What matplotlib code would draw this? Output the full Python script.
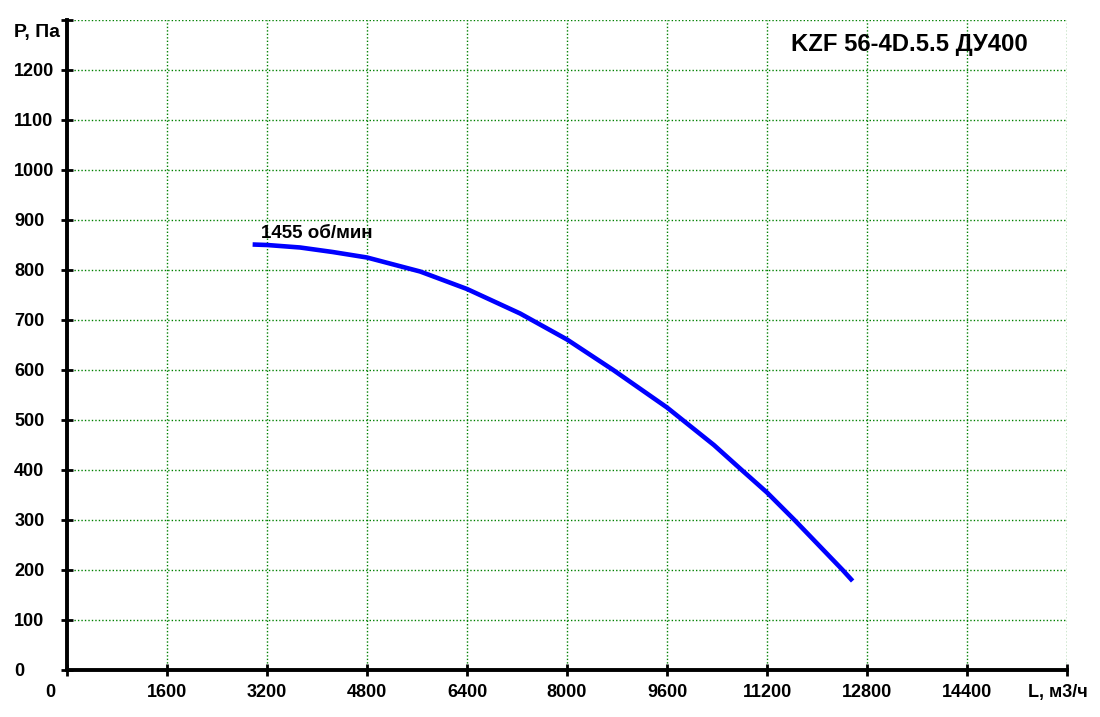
import numpy as np
import matplotlib
matplotlib.use("Agg")
import matplotlib.pyplot as plt
import matplotlib.transforms as mtransforms

plt.rcParams['font.family'] = ['Liberation Sans', 'DejaVu Sans']
plt.rcParams['font.weight'] = 'bold'

# curve: L (m3/h) vs P (Pa)
flow = [2970, 3200, 3730, 4250, 4800, 5650, 6400, 7250, 8000, 8740,
        9600, 9850, 10350, 10795, 11200, 11640, 12410, 12570]
pressure = [851, 850, 845, 836, 825, 797, 762, 713, 661, 600,
            525, 500, 450, 400, 355, 300, 200, 178]

x_ticks = [0, 1600, 3200, 4800, 6400, 8000, 9600, 11200, 12800, 14400, 16000]
x_labels = ['0', '1600', '3200', '4800', '6400', '8000', '9600', '11200',
            '12800', '14400', 'L, м3/ч']
y_ticks = list(range(0, 1301, 100))
y_labels = [str(v) for v in range(0, 1201, 100)] + ['']

title = 'KZF 56-4D.5.5 ДУ400'
curve_label = '1455 об/мин'

fig = plt.figure(figsize=(11, 7.17), dpi=100)
ax = fig.add_axes([67 / 1100, 47 / 717, 1000 / 1100, 650 / 717])

ax.plot(flow, pressure, color='#0000ff', lw=3.3, solid_capstyle='butt',
        solid_joinstyle='round')

ax.set_xlim(0, 16000)
ax.set_ylim(0, 1300)
ax.set_xticks(x_ticks)
ax.set_xticklabels(x_labels, fontsize=13, fontweight='bold')
ax.set_yticks(y_ticks)
ax.set_yticklabels(y_labels, fontsize=13, fontweight='bold')

ax.grid(True, color='#008000', linestyle=(0, (1, 1.5)), linewidth=1.0)
for s in ['top', 'right']:
    ax.spines[s].set_visible(False)
for s in ['left', 'bottom']:
    ax.spines[s].set_linewidth(2.8)

ax.tick_params(axis='both', direction='inout', length=8, width=2)
ax.tick_params(axis='x', pad=6)
ax.tick_params(axis='y', pad=34)
for lab in ax.get_yticklabels():
    lab.set_horizontalalignment('left')

# shift the "0" label on x to the left like the original
xl = ax.get_xticklabels()
xl[0].set_transform(xl[0].get_transform() +
                    mtransforms.ScaledTranslation(-17 / 100, 0, fig.dpi_scale_trans))
xl[-1].set_transform(xl[-1].get_transform() +
                     mtransforms.ScaledTranslation(-9 / 100, 0, fig.dpi_scale_trans))

fig.text(14 / 1100, 1 - 32 / 717, 'P, Па', fontsize=14, fontweight='bold',
         ha='left', va='center')
fig.text(791 / 1100, 1 - 44 / 717, title, fontsize=17.2, fontweight='bold',
         ha='left', va='center')
ax.text(3100, 874, curve_label, fontsize=13.5, fontweight='bold',
        ha='left', va='center')

fig.savefig('out.png', dpi=100)
